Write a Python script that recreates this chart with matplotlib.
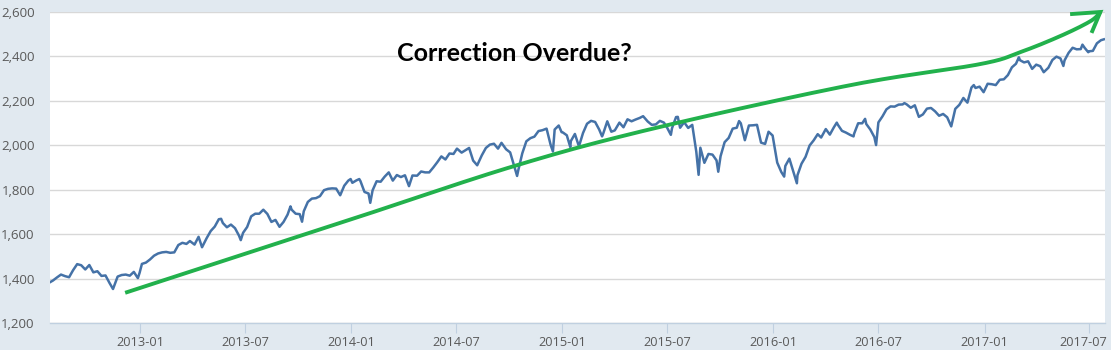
import numpy as np
import pandas as pd
import matplotlib
matplotlib.use('Agg')
import matplotlib.pyplot as plt
import matplotlib.dates as mdates
import matplotlib.transforms as mtransforms
from matplotlib.ticker import FuncFormatter

# S&P 500 closes (weekly, plus a few daily lows/highs)
d2012 = ['2012-07-30', '2012-08-03', '2012-08-10', '2012-08-17', '2012-08-24', '2012-08-31',
         '2012-09-07', '2012-09-14', '2012-09-21', '2012-09-28', '2012-10-05', '2012-10-12',
         '2012-10-19', '2012-10-26', '2012-11-02', '2012-11-09', '2012-11-15', '2012-11-23',
         '2012-11-30', '2012-12-07', '2012-12-14', '2012-12-21', '2012-12-28', '2012-12-31']
c2012 = [1385, 1391, 1405, 1418, 1411, 1406, 1438, 1465, 1460, 1441, 1461, 1428,
         1433, 1412, 1414, 1380, 1353, 1409, 1416, 1418, 1413, 1430, 1402, 1426]

d2013 = ['2013-01-04', '2013-01-11', '2013-01-18', '2013-01-25', '2013-02-01', '2013-02-08',
         '2013-02-15', '2013-02-22', '2013-03-01', '2013-03-08', '2013-03-15', '2013-03-22',
         '2013-03-28', '2013-04-05', '2013-04-12', '2013-04-18', '2013-04-26', '2013-05-03',
         '2013-05-10', '2013-05-17', '2013-05-21', '2013-05-24', '2013-05-31', '2013-06-07',
         '2013-06-14', '2013-06-21', '2013-06-24', '2013-06-28', '2013-07-05', '2013-07-12',
         '2013-07-19', '2013-07-26', '2013-08-02', '2013-08-09', '2013-08-16', '2013-08-23',
         '2013-08-30', '2013-09-06', '2013-09-13', '2013-09-18', '2013-09-20', '2013-09-27',
         '2013-10-04', '2013-10-08', '2013-10-11', '2013-10-18', '2013-10-25', '2013-11-01',
         '2013-11-08', '2013-11-15', '2013-11-22', '2013-11-29', '2013-12-06', '2013-12-13',
         '2013-12-20', '2013-12-27', '2013-12-31']
c2013 = [1466, 1472, 1486, 1503, 1513, 1518, 1520, 1516, 1518, 1551, 1561, 1556,
         1569, 1553, 1588, 1541, 1582, 1614, 1634, 1667, 1669, 1650, 1631, 1643,
         1627, 1593, 1573, 1606, 1632, 1680, 1692, 1692, 1710, 1691, 1655, 1664,
         1633, 1655, 1688, 1725, 1710, 1692, 1690, 1656, 1703, 1745, 1760, 1762,
         1771, 1798, 1804, 1806, 1805, 1775, 1818, 1841, 1848]

d2014 = ['2014-01-03', '2014-01-10', '2014-01-15', '2014-01-17', '2014-01-24', '2014-01-31',
         '2014-02-03', '2014-02-07', '2014-02-14', '2014-02-21', '2014-02-28', '2014-03-07',
         '2014-03-14', '2014-03-21', '2014-03-28', '2014-04-04', '2014-04-11', '2014-04-17',
         '2014-04-25', '2014-05-02', '2014-05-09', '2014-05-16', '2014-05-23', '2014-05-30',
         '2014-06-06', '2014-06-13', '2014-06-20', '2014-06-27', '2014-07-03', '2014-07-11',
         '2014-07-18', '2014-07-24', '2014-07-31', '2014-08-07', '2014-08-15', '2014-08-22',
         '2014-08-29', '2014-09-05', '2014-09-12', '2014-09-18', '2014-09-26', '2014-10-03',
         '2014-10-10', '2014-10-15', '2014-10-17', '2014-10-24', '2014-10-31', '2014-11-07',
         '2014-11-14', '2014-11-21', '2014-11-28', '2014-12-05', '2014-12-12', '2014-12-16',
         '2014-12-19', '2014-12-26', '2014-12-31']
c2014 = [1831, 1842, 1848, 1839, 1790, 1783, 1741, 1797, 1838, 1836, 1859, 1878,
         1841, 1866, 1857, 1865, 1816, 1864, 1863, 1882, 1878, 1878, 1900, 1924,
         1950, 1936, 1963, 1961, 1985, 1967, 1978, 1988, 1931, 1910, 1955, 1988,
         2003, 2007, 1985, 2011, 1982, 1968, 1906, 1862, 1887, 1964, 2018, 2032,
         2039, 2064, 2068, 2075, 2002, 1972, 2071, 2089, 2059]

d2015 = ['2015-01-02', '2015-01-09', '2015-01-15', '2015-01-16', '2015-01-23', '2015-01-30',
         '2015-02-06', '2015-02-13', '2015-02-20', '2015-02-27', '2015-03-06', '2015-03-11',
         '2015-03-13', '2015-03-20', '2015-03-27', '2015-04-02', '2015-04-10', '2015-04-17',
         '2015-04-24', '2015-05-01', '2015-05-08', '2015-05-15', '2015-05-21', '2015-05-29',
         '2015-06-05', '2015-06-12', '2015-06-19', '2015-06-26', '2015-07-02', '2015-07-08',
         '2015-07-10', '2015-07-17', '2015-07-20', '2015-07-24', '2015-07-31', '2015-08-07',
         '2015-08-14', '2015-08-21', '2015-08-25', '2015-08-28', '2015-09-04', '2015-09-11',
         '2015-09-18', '2015-09-25', '2015-09-28', '2015-10-02', '2015-10-09', '2015-10-16',
         '2015-10-23', '2015-10-30', '2015-11-03', '2015-11-06', '2015-11-13', '2015-11-20',
         '2015-11-27', '2015-12-04', '2015-12-11', '2015-12-18', '2015-12-24', '2015-12-31']
c2015 = [2058, 2045, 1992, 2019, 2051, 1995, 2055, 2097, 2110, 2105, 2071, 2040,
         2053, 2108, 2061, 2067, 2102, 2081, 2117, 2108, 2116, 2123, 2131, 2107,
         2092, 2094, 2110, 2102, 2077, 2047, 2077, 2127, 2128, 2079, 2104, 2078,
         2092, 1971, 1867, 1989, 1921, 1961, 1958, 1932, 1881, 1951, 2014, 2033,
         2075, 2079, 2109, 2099, 2023, 2089, 2090, 2092, 2012, 2006, 2061, 2044]

d2016 = ['2016-01-08', '2016-01-15', '2016-01-20', '2016-01-22', '2016-01-29', '2016-02-05',
         '2016-02-11', '2016-02-12', '2016-02-19', '2016-02-26', '2016-03-04', '2016-03-11',
         '2016-03-18', '2016-03-24', '2016-04-01', '2016-04-08', '2016-04-15', '2016-04-20',
         '2016-04-22', '2016-04-29', '2016-05-06', '2016-05-13', '2016-05-19', '2016-05-20',
         '2016-05-27', '2016-06-03', '2016-06-08', '2016-06-10', '2016-06-17', '2016-06-24',
         '2016-06-27', '2016-07-01', '2016-07-08', '2016-07-15', '2016-07-22', '2016-07-29',
         '2016-08-05', '2016-08-12', '2016-08-15', '2016-08-19', '2016-08-26', '2016-09-02',
         '2016-09-09', '2016-09-16', '2016-09-23', '2016-09-30', '2016-10-07', '2016-10-14',
         '2016-10-21', '2016-10-28', '2016-11-04', '2016-11-11', '2016-11-18', '2016-11-25',
         '2016-12-02', '2016-12-09', '2016-12-13', '2016-12-16', '2016-12-23', '2016-12-30']
c2016 = [1922, 1880, 1859, 1907, 1940, 1880, 1829, 1865, 1917, 1948, 1999, 2022,
         2050, 2035, 2073, 2048, 2081, 2102, 2092, 2065, 2057, 2047, 2040, 2052,
         2099, 2099, 2119, 2096, 2071, 2037, 2001, 2103, 2130, 2162, 2175, 2174,
         2183, 2184, 2190, 2184, 2169, 2180, 2128, 2139, 2165, 2168, 2153, 2133,
         2141, 2126, 2085, 2164, 2182, 2213, 2192, 2260, 2271, 2258, 2264, 2239]

d2017 = ['2017-01-06', '2017-01-13', '2017-01-20', '2017-01-27', '2017-02-03', '2017-02-10',
         '2017-02-17', '2017-02-24', '2017-03-01', '2017-03-03', '2017-03-10', '2017-03-17',
         '2017-03-24', '2017-03-31', '2017-04-07', '2017-04-13', '2017-04-21', '2017-04-28',
         '2017-05-05', '2017-05-12', '2017-05-17', '2017-05-19', '2017-05-26', '2017-06-02',
         '2017-06-09', '2017-06-16', '2017-06-19', '2017-06-23', '2017-06-29', '2017-06-30',
         '2017-07-07', '2017-07-14', '2017-07-21', '2017-07-26']
c2017 = [2277, 2275, 2271, 2295, 2297, 2316, 2351, 2367, 2396, 2383, 2373, 2378,
         2344, 2363, 2356, 2329, 2349, 2384, 2399, 2391, 2357, 2382, 2416, 2439,
         2432, 2433, 2453, 2438, 2419, 2423, 2425, 2459, 2473, 2477]

# the hand drawn green arrow (date, index level)
arrow_dates = ['2012-12-06', '2013-12-30', '2014-10-08', '2015-06-02', '2016-05-12',
               '2016-12-23', '2017-03-03', '2017-05-12', '2017-07-03', '2017-07-20']
arrow_levels = [1336, 1665, 1905, 2072, 2270, 2365, 2419, 2492, 2559, 2600]
head_dates = ['2017-06-01', '2017-07-20', '2017-07-06']
head_levels = [2591, 2600, 2514]


def catmull_rom(x, y, n=25):
    px = np.concatenate([[x[0]], x, [x[-1]]])
    py = np.concatenate([[y[0]], y, [y[-1]]])
    t = np.linspace(0, 1, n)[:, None]
    xs, ys = [], []
    for i in range(1, len(px) - 2):
        for p, out in ((px, xs), (py, ys)):
            p0, p1, p2, p3 = p[i - 1], p[i], p[i + 1], p[i + 2]
            seg = 0.5 * ((2 * p1) + (-p0 + p2) * t + (2 * p0 - 5 * p1 + 4 * p2 - p3) * t ** 2
                         + (-p0 + 3 * p1 - 3 * p2 + p3) * t ** 3)
            out.append(seg.ravel())
    return np.concatenate(xs), np.concatenate(ys)


dates = pd.to_datetime(d2012 + d2013 + d2014 + d2015 + d2016 + d2017)
closes = c2012 + c2013 + c2014 + c2015 + c2016 + c2017

fig = plt.figure(figsize=(11.11, 3.5), dpi=100, facecolor='#e1e9f0')
ax = fig.add_axes([50 / 1111, 27 / 350, 1055 / 1111, 311 / 350])
ax.set_facecolor('white')

ax.plot(dates, closes, color='#4572a7', lw=1.8, zorder=3)

ax.set_xlim(pd.Timestamp('2012-07-29'), pd.Timestamp('2017-07-28'))
ax.set_ylim(1200, 2600)
ax.set_yticks(np.arange(1200, 2601, 200))
ax.yaxis.set_major_formatter(FuncFormatter(lambda v, p: f'{int(v):,}'))
ax.xaxis.set_major_locator(mdates.MonthLocator(bymonth=[1, 7]))
ax.xaxis.set_major_formatter(mdates.DateFormatter('%Y-%m'))

ax.grid(axis='y', color='#d8d8d8', lw=1)
ax.set_axisbelow(True)
for s in ['top', 'right', 'left']:
    ax.spines[s].set_visible(False)
ax.spines['bottom'].set_color('#c0d0e0')
ax.spines['bottom'].set_linewidth(1)
ax.tick_params(axis='y', length=0, pad=11, labelsize=9.5, labelcolor='#595959')
ax.tick_params(axis='x', length=7, width=0.8, color='#c0d0e0', pad=2, labelsize=9.2,
               labelcolor='#595959')
for lab in ax.get_xticklabels() + ax.get_yticklabels():
    lab.set_family('Open Sans')

# last date label is pushed in so it stays inside the figure
fig.canvas.draw()
last = ax.get_xticklabels()[-1]
last.set_transform(last.get_transform() + mtransforms.ScaledTranslation(-6 / 100, 0, fig.dpi_scale_trans))

# green arrow
arr_x = mdates.date2num(pd.to_datetime(arrow_dates))
cx, cy = catmull_rom(arr_x, np.array(arrow_levels, dtype=float))
ax.plot(cx, cy, color='#22b14c', lw=2.8, solid_capstyle='butt', clip_on=False, zorder=4)
ax.plot(pd.to_datetime(head_dates), head_levels, color='#22b14c', lw=2.8,
        solid_joinstyle='miter', clip_on=False, zorder=4)

ax.text(0.44, 0.868, 'Correction Overdue?', transform=ax.transAxes, ha='center', va='center',
        fontsize=18, fontweight='bold', family='Lato', color='black')

fig.savefig('out.png', dpi=100, facecolor=fig.get_facecolor())
